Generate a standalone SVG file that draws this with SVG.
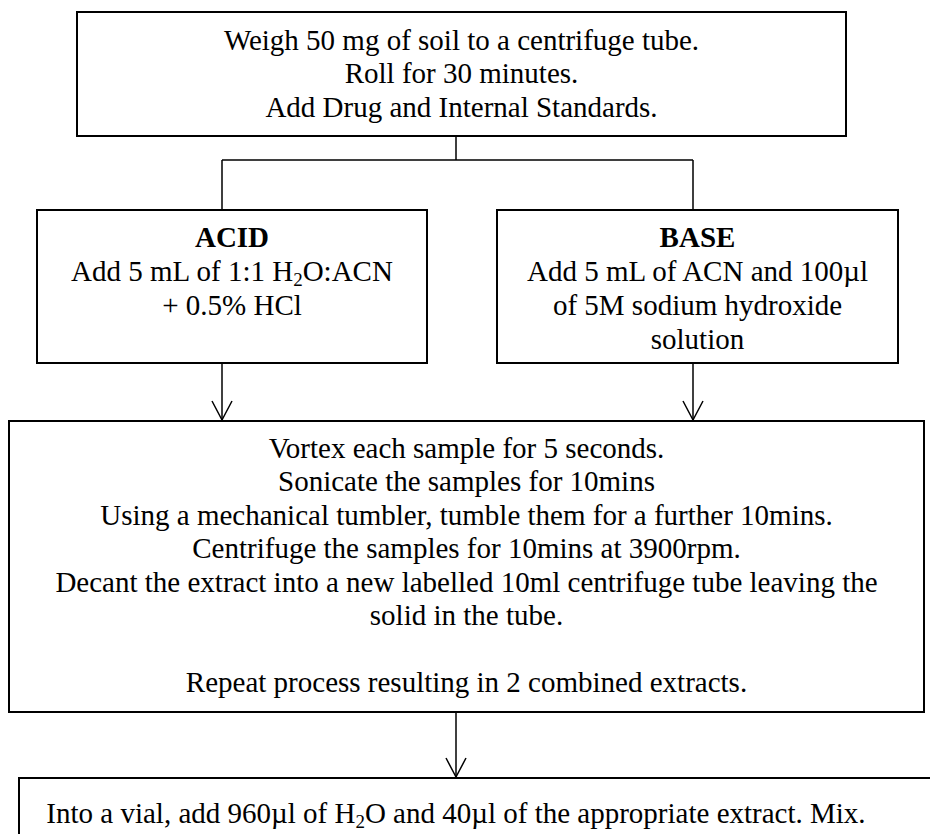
<svg xmlns="http://www.w3.org/2000/svg" width="930" height="834" viewBox="0 0 930 834">
<style>
.box{fill:#fff;stroke:#000;stroke-width:2}
.t{font-family:"Liberation Serif","Times New Roman",serif;font-size:29px;fill:#000;text-anchor:middle}
.b{font-weight:bold}
.c{fill:none;stroke:#000;stroke-width:1.5}
</style>
<defs>
<marker id="v" markerUnits="userSpaceOnUse" markerWidth="24" markerHeight="24" viewBox="-12 -22 24 24" refX="0" refY="0" orient="0">
<path d="M-10,-19 L0,0 L10,-19" fill="none" stroke="#000" stroke-width="1.5"/>
</marker>
</defs>
<rect width="930" height="834" fill="#fff"/>
<g id="connectors">
<path class="c" d="M456,136 V160 M222,160 H693 M222,160 V210 M693,160 V210"/>
<path class="c" d="M222,363 V420" marker-end="url(#v)"/>
<path class="c" d="M693,363 V420" marker-end="url(#v)"/>
<path class="c" d="M456,712 V777" marker-end="url(#v)"/>
</g>
<g id="start">
<rect class="box" x="77" y="12" width="769" height="124"/>
<text class="t" x="461.5" y="50">Weigh 50 mg of soil to a centrifuge tube.</text>
<text class="t" x="461.5" y="83">Roll for 30 minutes.</text>
<text class="t" x="461.5" y="117">Add Drug and Internal Standards.</text>
</g>
<g id="acid">
<rect class="box" x="37" y="210" width="390" height="153"/>
<text class="t b" x="232" y="247">ACID</text>
<text class="t" x="232" y="281">Add 5 mL of 1:1 H<tspan font-size="19" dy="5">2</tspan><tspan dy="-5">O:ACN</tspan></text>
<text class="t" x="232" y="315">+ 0.5% HCl</text>
</g>
<g id="base">
<rect class="box" x="497" y="210" width="401" height="153"/>
<text class="t b" x="697.5" y="247">BASE</text>
<text class="t" x="697.5" y="281">Add 5 mL of ACN and 100µl</text>
<text class="t" x="697.5" y="315">of 5M sodium hydroxide</text>
<text class="t" x="697.5" y="349">solution</text>
</g>
<g id="process">
<rect class="box" x="9" y="421" width="915" height="291"/>
<text class="t" x="466.5" y="458">Vortex each sample for 5 seconds.</text>
<text class="t" x="466.5" y="491">Sonicate the samples for 10mins</text>
<text class="t" x="466.5" y="525">Using a mechanical tumbler, tumble them for a further 10mins.</text>
<text class="t" x="466.5" y="558">Centrifuge the samples for 10mins at 3900rpm.</text>
<text class="t" x="466.5" y="592">Decant the extract into a new labelled 10ml centrifuge tube leaving the</text>
<text class="t" x="466.5" y="625">solid in the tube.</text>
<text class="t" x="466.5" y="692">Repeat process resulting in 2 combined extracts.</text>
</g>
<g id="final">
<rect class="box" x="19" y="778" width="930" height="80"/>
<text class="t" x="456" y="823">Into a vial, add 960µl of H<tspan font-size="19" dy="5">2</tspan><tspan dy="-5">O and 40µl of the appropriate extract. Mix.</tspan></text>
</g>
</svg>
